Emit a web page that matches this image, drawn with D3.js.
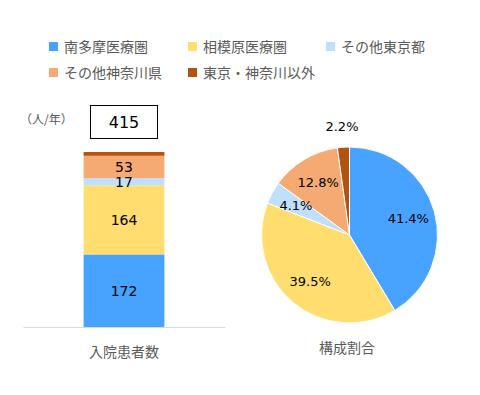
<!DOCTYPE html>
<html>
<head>
<meta charset="utf-8">
<script src="https://cdn.jsdelivr.net/npm/d3@7"></script>
<style>
  body { margin: 0; background: #fff; }
  text { font-family: "Noto Sans CJK JP", "DejaVu Sans", sans-serif; }
  text.num { font-family: "DejaVu Sans", sans-serif; }
</style>
</head>
<body>
<script>
const categories = ['南多摩医療圏', '相模原医療圏', 'その他東京都', 'その他神奈川県', '東京・神奈川以外'];
const counts = [172, 164, 17, 53, 9];
const shares = [41.4, 39.5, 4.1, 12.8, 2.2];
const colors = ['#48A2FF', '#FFDE6F', '#BFDFFC', '#F5AA74', '#B3530F'];
const total = 415;
const unitLabel = '（人/年）';
const barCaption = '入院患者数';
const pieCaption = '構成割合';

function draw () {
    const width = 480;
    const height = 395;

    const svg = d3.select('body').append('svg')
        .attr('width', width)
        .attr('height', height);

    // legend
    const legendPos = [[49, 47], [188, 47], [326, 47], [49, 73], [188, 73]];
    const legend = svg.append('g');
    categories.forEach((c, i) => {
        const g = legend.append('g').attr('transform', `translate(${legendPos[i][0]},${legendPos[i][1]})`);
        g.append('rect').attr('x', 0).attr('y', -5).attr('width', 9).attr('height', 9).attr('fill', colors[i]);
        g.append('text').attr('x', 15).attr('y', 0).attr('dy', '0.35em')
            .attr('font-size', 14).attr('fill', '#595959').text(c);
    });

    // stacked bar
    const X = d3.scaleBand().domain([barCaption]).range([23, 225]).paddingInner(0).paddingOuter(0.75);
    const Y = d3.scaleLinear().domain([0, total]).range([327, 152]);

    let acc = 0;
    const stack = counts.map((v, i) => {
        const d = { i, y0: acc, y1: acc + v, v };
        acc += v;
        return d;
    });

    const bar = svg.append('g');
    bar.selectAll('rect').data(stack).join('rect')
        .attr('x', X(barCaption))
        .attr('width', X.bandwidth())
        .attr('y', d => Y(d.y1))
        .attr('height', d => Y(d.y0) - Y(d.y1))
        .attr('fill', d => colors[d.i]);

    bar.selectAll('text').data(stack.filter(d => d.v > 10)).join('text')
        .attr('class', 'num')
        .attr('x', X(barCaption) + X.bandwidth() / 2)
        .attr('y', d => Y((d.y0 + d.y1) / 2))
        .attr('dy', '0.35em')
        .attr('text-anchor', 'middle')
        .attr('font-size', 14)
        .attr('fill', '#000')
        .text(d => d.v);

    // baseline
    const x_axis = d3.axisBottom(X).tickSize(0).tickFormat('');
    svg.append('g')
        .attr('transform', `translate(0,${Y(0)})`)
        .call(x_axis)
        .call(g => g.select('.domain').attr('stroke', '#d9d9d9'));

    // total box
    svg.append('rect').attr('x', 90.5).attr('y', 105.5).attr('width', 67).attr('height', 33)
        .attr('fill', '#fff').attr('stroke', '#000');
    svg.append('text').attr('class', 'num').attr('x', 124).attr('y', 122).attr('dy', '0.35em')
        .attr('text-anchor', 'middle').attr('font-size', 16).attr('fill', '#000').text(total);

    svg.append('text').attr('x', 20).attr('y', 120).attr('dy', '0.35em')
        .attr('font-size', 12).attr('fill', '#595959').text(unitLabel);

    // pie
    const cx = 349.5, cy = 235, R = 88;
    const pie = d3.pie().sort(null).value(d => d)(shares);
    const arc = d3.arc().innerRadius(0).outerRadius(R);
    const labelArc = d3.arc().innerRadius(61).outerRadius(61);
    const outerArc = d3.arc().innerRadius(109).outerRadius(109);

    const pg = svg.append('g').attr('transform', `translate(${cx},${cy})`);
    pg.selectAll('path').data(pie).join('path')
        .attr('d', arc)
        .attr('fill', (d, i) => colors[i])
        .attr('stroke', '#fff')
        .attr('stroke-width', 1);

    pg.selectAll('text').data(pie).join('text')
        .attr('class', 'num')
        .attr('transform', d => `translate(${(d.data < 3 ? outerArc : labelArc).centroid(d)})`)
        .attr('dy', '0.35em')
        .attr('text-anchor', 'middle')
        .attr('font-size', 13)
        .attr('fill', '#000')
        .text(d => d.data.toFixed(1) + '%');

    // captions
    svg.append('text').attr('x', 124).attr('y', 352).attr('dy', '0.35em')
        .attr('text-anchor', 'middle').attr('font-size', 14).attr('fill', '#595959').text(barCaption);
    svg.append('text').attr('x', 347).attr('y', 348).attr('dy', '0.35em')
        .attr('text-anchor', 'middle').attr('font-size', 14).attr('fill', '#595959').text(pieCaption);
}

draw();
</script>
</body>
</html>
